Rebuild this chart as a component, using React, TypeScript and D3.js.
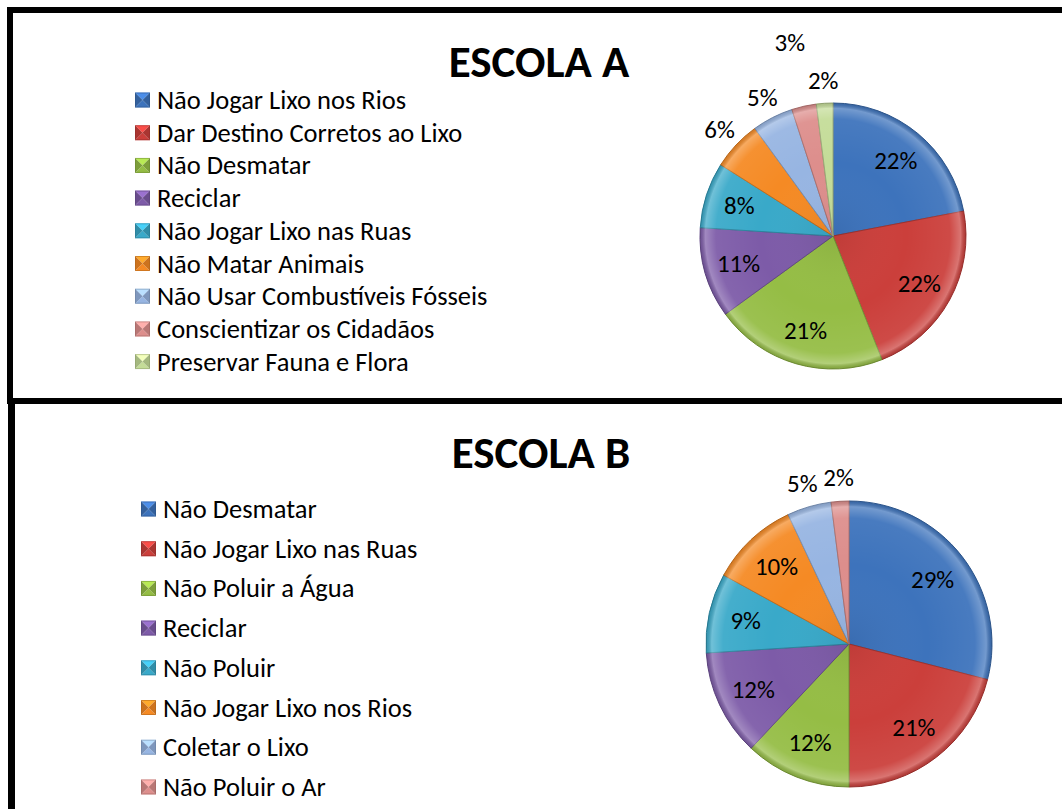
import React from 'react';
import * as d3 from 'd3';

const categoriesA = [
  'Não Jogar Lixo nos Rios',
  'Dar Destino Corretos ao Lixo',
  'Não Desmatar',
  'Reciclar',
  'Não Jogar Lixo nas Ruas',
  'Não Matar Animais',
  'Não Usar Combustíveis Fósseis',
  'Conscientizar os Cidadãos',
  'Preservar Fauna e Flora',
];
const valuesA = [22, 22, 21, 11, 8, 6, 5, 3, 2];

const categoriesB = [
  'Não Desmatar',
  'Não Jogar Lixo nas Ruas',
  'Não Poluir a Água',
  'Reciclar',
  'Não Poluir',
  'Não Jogar Lixo nos Rios',
  'Coletar o Lixo',
  'Não Poluir o Ar',
];
const valuesB = [29, 21, 12, 12, 9, 10, 5, 2];

const palette = [
  '#3D73BC',
  '#CB3F3B',
  '#95BD45',
  '#7D5BA8',
  '#39A9C9',
  '#F58A24',
  '#97B5E2',
  '#DD8E8C',
  '#C4DC98',
];

const FONT = 'Carlito, Calibri, Lato, "Open Sans", sans-serif';

type PanelProps = {
  id: string;
  title: string;
  titleX: number;
  titleY: number;
  categories: string[];
  values: number[];
  legendX: number;
  legendY0: number;
  legendStep: number;
  cx: number;
  cy: number;
  r: number;
  farLabel?: number;
};

function Marker({ x, y, color }: { x: number; y: number; color: string }) {
  const s = 15;
  const c = d3.color(color)!;
  const light = c.brighter(0.6).toString();
  const dark = c.darker(0.5).toString();
  const mid = c.toString();
  const cx = x + s / 2;
  const cy = y + s / 2;
  return (
    <g>
      <path d={`M${x},${y}L${x + s},${y}L${cx},${cy}Z`} fill={light} />
      <path d={`M${x},${y + s}L${x + s},${y + s}L${cx},${cy}Z`} fill={mid} />
      <path d={`M${x},${y}L${x},${y + s}L${cx},${cy}Z`} fill={dark} />
      <path d={`M${x + s},${y}L${x + s},${y + s}L${cx},${cy}Z`} fill={dark} />
      <rect x={x + 0.5} y={y + 0.5} width={s - 1} height={s - 1} fill="none" stroke={c.darker(1).toString()} strokeWidth={1} opacity={0.5} />
    </g>
  );
}

function Panel(p: PanelProps) {
  const pie = d3
    .pie<number>()
    .sort(null)
    .value((d) => d)
    .startAngle(0)
    .endAngle(2 * Math.PI);
  const arcs = pie(p.values);
  const arc = d3.arc<d3.PieArcDatum<number>>().innerRadius(0).outerRadius(p.r);
  const gradId = `rim-${p.id}`;
  return (
    <g>
      <defs>
        <radialGradient id={gradId} cx={0} cy={0} r={p.r} gradientUnits="userSpaceOnUse">
          <stop offset="0%" stopColor="#000" stopOpacity={0.06} />
          <stop offset="55%" stopColor="#fff" stopOpacity={0} />
          <stop offset="88%" stopColor="#fff" stopOpacity={0.06} />
          <stop offset="96%" stopColor="#fff" stopOpacity={0.28} />
          <stop offset="100%" stopColor="#000" stopOpacity={0.12} />
        </radialGradient>
      </defs>
      <text
        x={p.titleX}
        y={p.titleY}
        textAnchor="middle"
        fontFamily={FONT}
        fontWeight="bold"
        fontSize={45}
        fill="#000"
      >
        {p.title}
      </text>
      {p.categories.map((c, i) => {
        const y = p.legendY0 + i * p.legendStep;
        return (
          <g key={c}>
            <Marker x={p.legendX} y={y - 7.5} color={palette[i]} />
            <text x={p.legendX + 22} y={y} dominantBaseline="central" fontFamily={FONT} fontSize={26.5} fill="#000">
              {c}
            </text>
          </g>
        );
      })}
      <g transform={`translate(${p.cx},${p.cy})`}>
        {arcs.map((a, i) => {
          const col = d3.color(palette[i])!;
          return (
            <path
              key={i}
              d={arc(a)!}
              fill={palette[i]}
              stroke={col.darker(0.7).toString()}
              strokeWidth={1}
              strokeLinejoin="round"
            />
          );
        })}
        {arcs.map((a, i) => (
          <path key={'o' + i} d={arc(a)!} fill={`url(#${gradId})`} />
        ))}
      </g>
      {arcs.map((a, i) => {
        const mid = (a.startAngle + a.endAngle) / 2;
        let f = a.data >= 7 ? 0.74 : 1.17;
        if (p.farLabel === i) f = 1.49;
        const x = p.cx + Math.sin(mid) * p.r * f;
        const y = p.cy - Math.cos(mid) * p.r * f;
        return (
          <text
            key={'l' + i}
            x={x}
            y={y}
            textAnchor="middle"
            dominantBaseline="central"
            fontFamily={FONT}
            fontSize={25}
            fill="#000"
          >
            {`${a.data}%`}
          </text>
        );
      })}
    </g>
  );
}

export default function App() {
  return (
    <svg
      width={1062}
      height={809}
      viewBox="0 0 1062 809"
      style={{ position: 'absolute', left: 0, top: 0, background: '#fff' }}
    >
      <rect x={0} y={0} width={1062} height={809} fill="#fff" />
      <Panel
        id="a"
        title="ESCOLA A"
        titleX={539}
        titleY={77}
        categories={categoriesA}
        values={valuesA}
        legendX={135}
        legendY0={100}
        legendStep={32.7}
        cx={833}
        cy={236}
        r={133}
        farLabel={7}
      />
      <Panel
        id="b"
        title="ESCOLA B"
        titleX={541}
        titleY={468}
        categories={categoriesB}
        values={valuesB}
        legendX={141}
        legendY0={509}
        legendStep={39.7}
        cx={849}
        cy={644}
        r={143}
      />
      <rect x={7} y={7} width={1055} height={6} fill="#000" />
      <rect x={7} y={7} width={6} height={397} fill="#000" />
      <rect x={7} y={398} width={1055} height={6} fill="#000" />
      <rect x={8} y={398} width={7} height={411} fill="#000" />
    </svg>
  );
}
